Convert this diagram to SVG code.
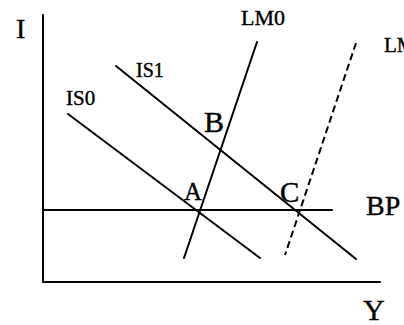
<svg xmlns="http://www.w3.org/2000/svg" width="404" height="325" viewBox="0 0 404 325">
<style>
.ln{stroke:#000;stroke-width:2;fill:none;stroke-linecap:round}
.dash{stroke-dasharray:7 4;stroke-linecap:butt}
text{font-family:"Liberation Serif","Times New Roman",serif;fill:#000;stroke:#000;stroke-width:0.4}
</style>
<rect width="404" height="325" fill="#fff"/>
<g id="axes">
<line class="ln" x1="43" y1="15" x2="43" y2="282"/>
<line class="ln" x1="43" y1="282" x2="380" y2="282"/>
<text x="16" y="38" font-size="28">I</text>
<text x="363" y="320" font-size="30">Y</text>
</g>
<g id="connectors">
<line id="IS0-line" class="ln" x1="68" y1="114" x2="260" y2="258"/>
<line id="IS1-line" class="ln" x1="116" y1="66" x2="356" y2="259"/>
<line id="LM0-line" class="ln" x1="257" y1="42" x2="184" y2="258"/>
<line id="LM1-line" class="ln dash" x1="356" y1="43" x2="285" y2="255"/>
<line id="BP-line" class="ln" x1="43" y1="210" x2="332" y2="210"/>
</g>
<g id="IS0"><text x="66" y="105" font-size="21">IS0</text></g>
<g id="IS1"><text x="136" y="77" font-size="20">IS1</text></g>
<g id="LM0"><text x="241" y="25" font-size="22">LM0</text></g>
<g id="LM1"><text x="384" y="52" font-size="21">LM1</text></g>
<g id="BP"><text x="366" y="215" font-size="28">BP</text></g>
<g id="A"><text x="184" y="200" font-size="25">A</text></g>
<g id="B"><text x="204" y="132" font-size="30">B</text></g>
<g id="C"><text x="280" y="202" font-size="29">C</text></g>
</svg>
